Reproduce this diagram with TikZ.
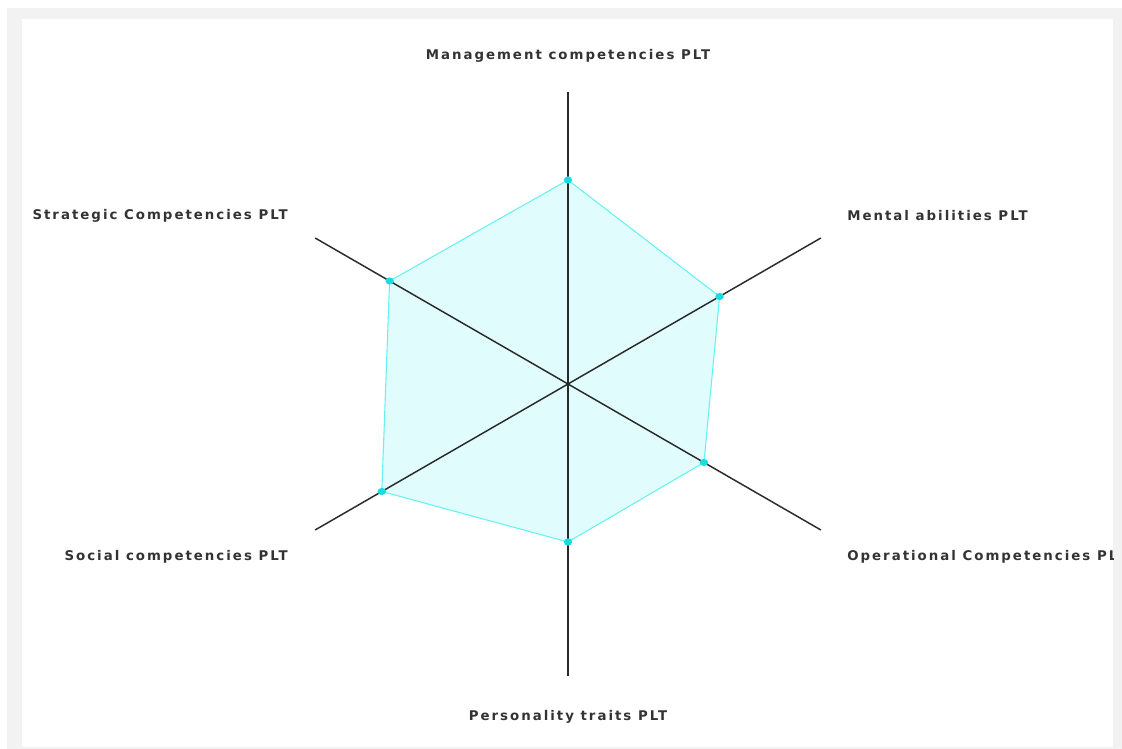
\documentclass[tikz,border=0pt]{standalone}
\usepackage{fontspec}
\setmainfont{DejaVu Sans}[LetterSpace=15]
\definecolor{frame}{HTML}{F2F2F2}
\definecolor{webfill}{HTML}{E0FCFC}
\definecolor{webline}{HTML}{66F2F2}
\definecolor{webdot}{HTML}{18DCE4}
\definecolor{axis}{HTML}{2A2A2A}
\tikzset{
    axisline/.style={axis, line width=1.1pt},
    axislabel/.style={font=\fontsize{10}{12}\selectfont\bfseries, text=black!80, inner sep=0pt},
}

\begin{document}
\begin{tikzpicture}[x=0.75pt, y=0.75pt]

    \useasboundingbox (0,0) rectangle (1122,749);
    \fill[frame] (7,0) rectangle (1122,741);
    \fill[white] (22,2) rectangle (1113,730);

    \coordinate (C) at (568,365);

    \pgfmathsetmacro{\R}{292} % axis length

    % Data polygon
    \foreach \a/\r [count=\i] in {90/204, 30/175, -30/157, -90/158, -150/215, 150/206}
        {
            \path (C) +(\a:\r) coordinate (P\i);
        }
    \filldraw[fill=webfill, draw=webline, line width=0.8pt] (P1) foreach \i in {2,...,6}{-- (P\i)} -- cycle;

    % Axes
    \foreach \a [count=\i] in {90, 30, -30, -90, -150, 150}
        {
            \draw[axisline] (C) -- ++(\a:\R) coordinate (A\i);
        }

    % Points
    \foreach \i in {1,...,6}
        {
            \fill[webdot] (P\i) ellipse (4.2 and 3.6);
        }

    % Labels
    \begin{scope}
        \clip (22,2) rectangle (1113,730);
        \node[axislabel] (mgmt) at (568,693) {Management competencies PLT};
        \node[axislabel, anchor=west] (mental) at (847,533) {Mental abilities PLT};
        \node[axislabel, anchor=west] (oper) at (847,192) {Operational Competencies PL};
        \node[axislabel] (pers) at (568,32) {Personality traits PLT};
        \node[axislabel, anchor=east] (social) at (288,192) {Social competencies PLT};
        \node[axislabel, anchor=east] (strat) at (288,533) {Strategic Competencies PLT};
    \end{scope}

\end{tikzpicture}
\end{document}
